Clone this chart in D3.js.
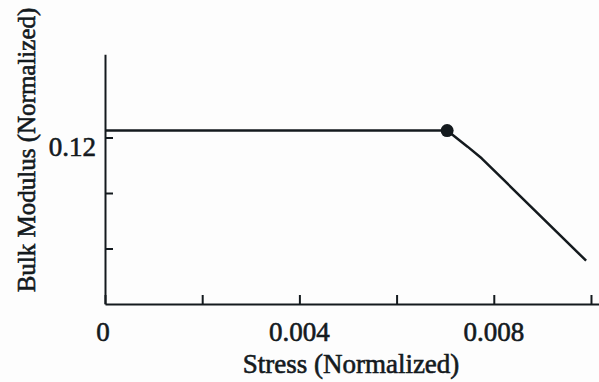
<!DOCTYPE html>
<html>
<head>
<meta charset="utf-8">
<script src="https://cdn.jsdelivr.net/npm/d3@7"></script>
<style>
  body { margin: 0; background: #fdfdfd; }
  svg { display: block; }
  text { font-family: "Liberation Serif", "Times New Roman", serif; fill: #141a1e; stroke: #141a1e; stroke-width: 0.6px; }
</style>
</head>
<body>
<svg id="chart"></svg>
<script>
// values
let stress = [0, 0.00704, 0.00746, 0.00775, 0.0099];
let modulus = [0.125, 0.125, 0.1134, 0.105, 0.0312];
let markStress = 0.00704;
let markModulus = 0.125;
let xTicks = [0, 0.002, 0.004, 0.006, 0.008, 0.010];
let xLabels = ["0", "", "0.004", "", "0.008", ""];
let yTicks = [0.04, 0.08, 0.12];
let yLabels = ["", "", "0.12"];

let width = 599, height = 382;
let ink = "#141a1e";

let svg = d3.select("#chart")
    .attr("width", width)
    .attr("height", height);

let x = d3.scaleLinear().domain([0, 0.0102]).range([105, 600.7]);
let y = d3.scaleLinear().domain([0, 0.18]).range([304, 54.25]);

// x axis, ticks pointing up into the plot
let xAxis = d3.axisBottom(x)
    .tickValues(xTicks)
    .tickSizeInner(-9)
    .tickSizeOuter(0)
    .tickFormat("");

let gx = svg.append("g")
    .attr("transform", "translate(0," + y(0) + ")")
    .call(xAxis);
gx.selectAll("path, line").attr("stroke", ink).attr("stroke-width", 2);

svg.append("g")
    .selectAll("text")
    .data(xTicks)
    .enter()
    .append("text")
    .attr("x", (d) => x(d) - (d === 0 ? 2 : 0))
    .attr("y", 341)
    .attr("text-anchor", "middle")
    .style("font-size", "27px")
    .text((d, i) => xLabels[i]);

// y axis, ticks pointing right
let yAxis = d3.axisLeft(y)
    .tickValues(yTicks)
    .tickSizeInner(-8)
    .tickSizeOuter(0)
    .tickFormat("");

let gy = svg.append("g")
    .attr("transform", "translate(" + x(0) + ",0)")
    .call(yAxis);
gy.selectAll("path, line").attr("stroke", ink).attr("stroke-width", 2);

svg.append("g")
    .selectAll("text")
    .data(yTicks)
    .enter()
    .append("text")
    .attr("x", 96)
    .attr("y", (d) => y(d) + 18)
    .attr("text-anchor", "end")
    .style("font-size", "27px")
    .text((d, i) => yLabels[i]);

// axis titles
svg.append("text")
    .attr("x", 351)
    .attr("y", 373)
    .attr("text-anchor", "middle")
    .style("font-size", "27px")
    .text("Stress (Normalized)");

svg.append("text")
    .attr("transform", "translate(35,150) rotate(-90)")
    .attr("text-anchor", "middle")
    .style("font-size", "25px")
    .text("Bulk Modulus (Normalized)");

// curve
let line = d3.line()
    .x((d) => x(d[0]))
    .y((d) => y(d[1]));

svg.append("path")
    .datum(stress.map((s, i) => [s, modulus[i]]))
    .attr("d", line)
    .attr("fill", "none")
    .attr("stroke", ink)
    .attr("stroke-width", 2.5)
    .attr("stroke-linejoin", "round");

svg.append("circle")
    .attr("cx", x(markStress))
    .attr("cy", y(markModulus))
    .attr("r", 6.5)
    .attr("fill", ink);
</script>
</body>
</html>
